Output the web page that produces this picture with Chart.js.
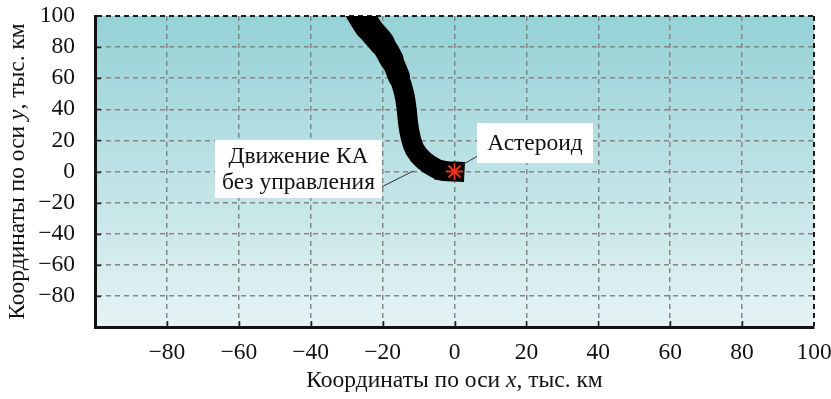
<!DOCTYPE html>
<html><head><meta charset="utf-8">
<script src="https://cdn.jsdelivr.net/npm/chart.js@4/dist/chart.umd.min.js"></script>
<style>html,body{margin:0;padding:0;background:#fff}#wrap{width:831px;height:399px}</style>
</head><body><div id="wrap"><canvas id="c" width="831" height="399"></canvas></div>
<script>
// ---- data ----
const xTickValues = [-100, -80, -60, -40, -20, 0, 20, 40, 60, 80, 100];
const yTickValues = [-100, -80, -60, -40, -20, 0, 20, 40, 60, 80, 100];
const hiddenTickValues = [-100];
// uncontrolled spacecraft motion (centre line of the trajectory bundle), thousand km
const trajectoryX = [-27, -24, -20.2, -17.5, -15.4, -14, -13.3, -12.9, -12.2, -11, -8.5, -5, -2.5, 0];
const trajectoryY = [104, 93, 82.6, 72, 60.7, 50, 40, 31, 22, 14, 7, 1.8, 0.3, 0];
// apparent width of the trajectory bundle on each segment (spread of trajectories)
const bundleSpread = [27, 26, 24, 22, 20, 20, 20, 20, 20, 20, 20, 20, 20];
// asteroid position
const asteroidX = [0];
const asteroidY = [0];
// texts
const xTitleParts = ['Координаты по оси ', 'x', ', тыс. км'];
const yTitleParts = ['Координаты по оси ', 'y', ', тыс. км'];
const motionLabel = ['Движение КА', 'без управления'];
const asteroidLabel = ['Астероид'];

const FONT = '"Liberation Serif", "Times New Roman", serif';
const FS = 23.5;
const fmt = v => hiddenTickValues.includes(v) ? '' : (v < 0 ? '\u2212' + Math.abs(v) : String(v));
const pts = (xs, ys) => xs.map((x, i) => ({x, y: ys[i]}));

const bgPlugin = {
  id: 'bg',
  beforeDraw(chart) {
    const {ctx, chartArea: a} = chart;
    const g = ctx.createLinearGradient(0, a.top, 0, a.bottom);
    g.addColorStop(0, '#94d1d5');
    g.addColorStop(1, '#e6f3f4');
    ctx.save();
    ctx.fillStyle = g;
    ctx.fillRect(a.left, a.top, a.right - a.left, a.bottom - a.top);
    ctx.restore();
  },
  beforeDatasetsDraw(chart) {
    const {ctx, chartArea: a, scales: {x, y}} = chart;
    ctx.save();
    ctx.strokeStyle = '#222';
    ctx.lineWidth = 1.5;
    ctx.beginPath();
    x.ticks.forEach(t => {
      if (t.value <= -100 || t.value >= 100) return;
      const px = Math.round(x.getPixelForValue(t.value)) + 0.5;
      ctx.moveTo(px, a.bottom); ctx.lineTo(px, a.bottom - 6);
    });
    y.ticks.forEach(t => {
      if (t.value <= -100 || t.value >= 100) return;
      const py = Math.round(y.getPixelForValue(t.value)) + 0.5;
      ctx.moveTo(a.left, py); ctx.lineTo(a.left + 6, py);
    });
    ctx.stroke();
    ctx.restore();
  }
};

function drawParts(ctx, parts, cx, cy) {
  const fonts = parts.map((p, i) => (i === 1 ? 'italic ' : '') + FS + 'px ' + FONT);
  let total = 0;
  const ws = parts.map((p, i) => { ctx.font = fonts[i]; const w = ctx.measureText(p).width; total += w; return w; });
  let xx = cx - total / 2;
  ctx.textAlign = 'left';
  ctx.textBaseline = 'middle';
  parts.forEach((p, i) => { ctx.font = fonts[i]; ctx.fillText(p, xx, cy); xx += ws[i]; });
}

const textPlugin = {
  id: 'texts',
  afterDraw(chart) {
    const {ctx, chartArea: a, scales: {x, y}} = chart;
    ctx.save();
    ctx.fillStyle = '#111';
    drawParts(ctx, xTitleParts, (a.left + a.right) / 2, 381);
    ctx.save();
    ctx.translate(18, (a.top + a.bottom) / 2);
    ctx.rotate(-Math.PI / 2);
    drawParts(ctx, yTitleParts, 0, 0);
    ctx.restore();

    const P = (vx, vy) => [x.getPixelForValue(vx), y.getPixelForValue(vy)];
    ctx.strokeStyle = '#333';
    ctx.lineWidth = 1;
    const c1 = P(-43.4, 1.6), l1b = P(-11.5, 0.3);
    ctx.beginPath();
    ctx.moveTo(c1[0] + 83, c1[1] + 18);
    ctx.lineTo(l1b[0], l1b[1]);
    ctx.stroke();
    const l2a = P(2.1, 4.2), l2b = P(8, 12);
    ctx.beginPath();
    ctx.moveTo(l2a[0], l2a[1]);
    ctx.lineTo(l2b[0], l2b[1]);
    ctx.stroke();

    const box = (c, w, h, lines) => {
      ctx.fillStyle = '#fff';
      ctx.fillRect(Math.round(c[0] - w / 2), Math.round(c[1] - h / 2), w, h);
      ctx.fillStyle = '#111';
      ctx.font = FS + 'px ' + FONT;
      ctx.textAlign = 'center';
      ctx.textBaseline = 'middle';
      const lh = 26;
      lines.forEach((t, i) => ctx.fillText(t, c[0], c[1] + 1 + (i - (lines.length - 1) / 2) * lh));
    };
    box(P(-43.4, 1.6), 167, 58, motionLabel);
    box(P(22.4, 18.3), 116, 40, asteroidLabel);
    ctx.restore();
  }
};

const gridColor = c => {
  const v = c.tick && c.tick.value;
  if (v === -100) return 'rgba(0,0,0,0)';
  if (v === 100) return '#1a1a1a';
  return '#858585';
};
const gridWidth = c => (c.tick && c.tick.value === 100) ? 2 : 1.5;
const lastSeg = trajectoryX.length - 2;

new Chart(document.getElementById('c'), {
  type: 'scatter',
  data: {
    datasets: [
      {
        label: 'Астероид (центр)',
        data: pts(asteroidX, asteroidY),
        pointStyle: 'circle',
        pointRadius: 2.5,
        borderWidth: 0,
        backgroundColor: '#e8341c'
      },
      {
        label: 'Астероид',
        data: pts(asteroidX, asteroidY),
        pointStyle: 'star',
        pointRadius: 8.5,
        borderColor: '#e8341c',
        backgroundColor: '#e8341c',
        pointBorderWidth: 1.8
      },
      {
        label: 'Движение КА без управления',
        data: pts(trajectoryX, trajectoryY),
        showLine: true,
        borderColor: '#000',
        backgroundColor: '#000',
        borderWidth: 20,
        borderCapStyle: 'round',
        borderJoinStyle: 'round',
        tension: 0.4,
        pointRadius: 0,
        clip: 0,
        segment: {
          borderWidth: c => bundleSpread[c.p0DataIndex],
          borderCapStyle: c => c.p0DataIndex === lastSeg ? 'square' : 'round'
        }
      }
    ]
  },
  options: {
    responsive: false,
    animation: false,
    devicePixelRatio: 1,
    layout: {padding: {left: 0, right: 17, top: 16, bottom: 0}},
    plugins: {legend: {display: false}, tooltip: {enabled: false}},
    scales: {
      x: {
        type: 'linear', min: -100, max: 100,
        afterBuildTicks: s => { s.ticks = xTickValues.map(v => ({value: v})); },
        afterFit: s => { s.height = 72; s.paddingLeft = 0; s.paddingRight = 0; },
        ticks: {callback: v => fmt(v), color: '#111', font: {family: FONT, size: FS}, padding: 12, maxRotation: 0, autoSkip: false},
        grid: {color: gridColor, lineWidth: gridWidth, drawTicks: false},
        border: {display: true, color: '#111', width: 3, dash: [5, 4]}
      },
      y: {
        type: 'linear', min: -100, max: 100,
        afterBuildTicks: s => { s.ticks = yTickValues.map(v => ({value: v})); },
        afterFit: s => { s.width = 95; s.paddingTop = 0; s.paddingBottom = 0; },
        ticks: {callback: v => fmt(v), color: '#111', font: {family: FONT, size: FS}, padding: 20, autoSkip: false},
        grid: {color: gridColor, lineWidth: gridWidth, drawTicks: false},
        border: {display: true, color: '#111', width: 3, dash: [5, 4]}
      }
    }
  },
  plugins: [bgPlugin, textPlugin]
});
</script></body></html>
